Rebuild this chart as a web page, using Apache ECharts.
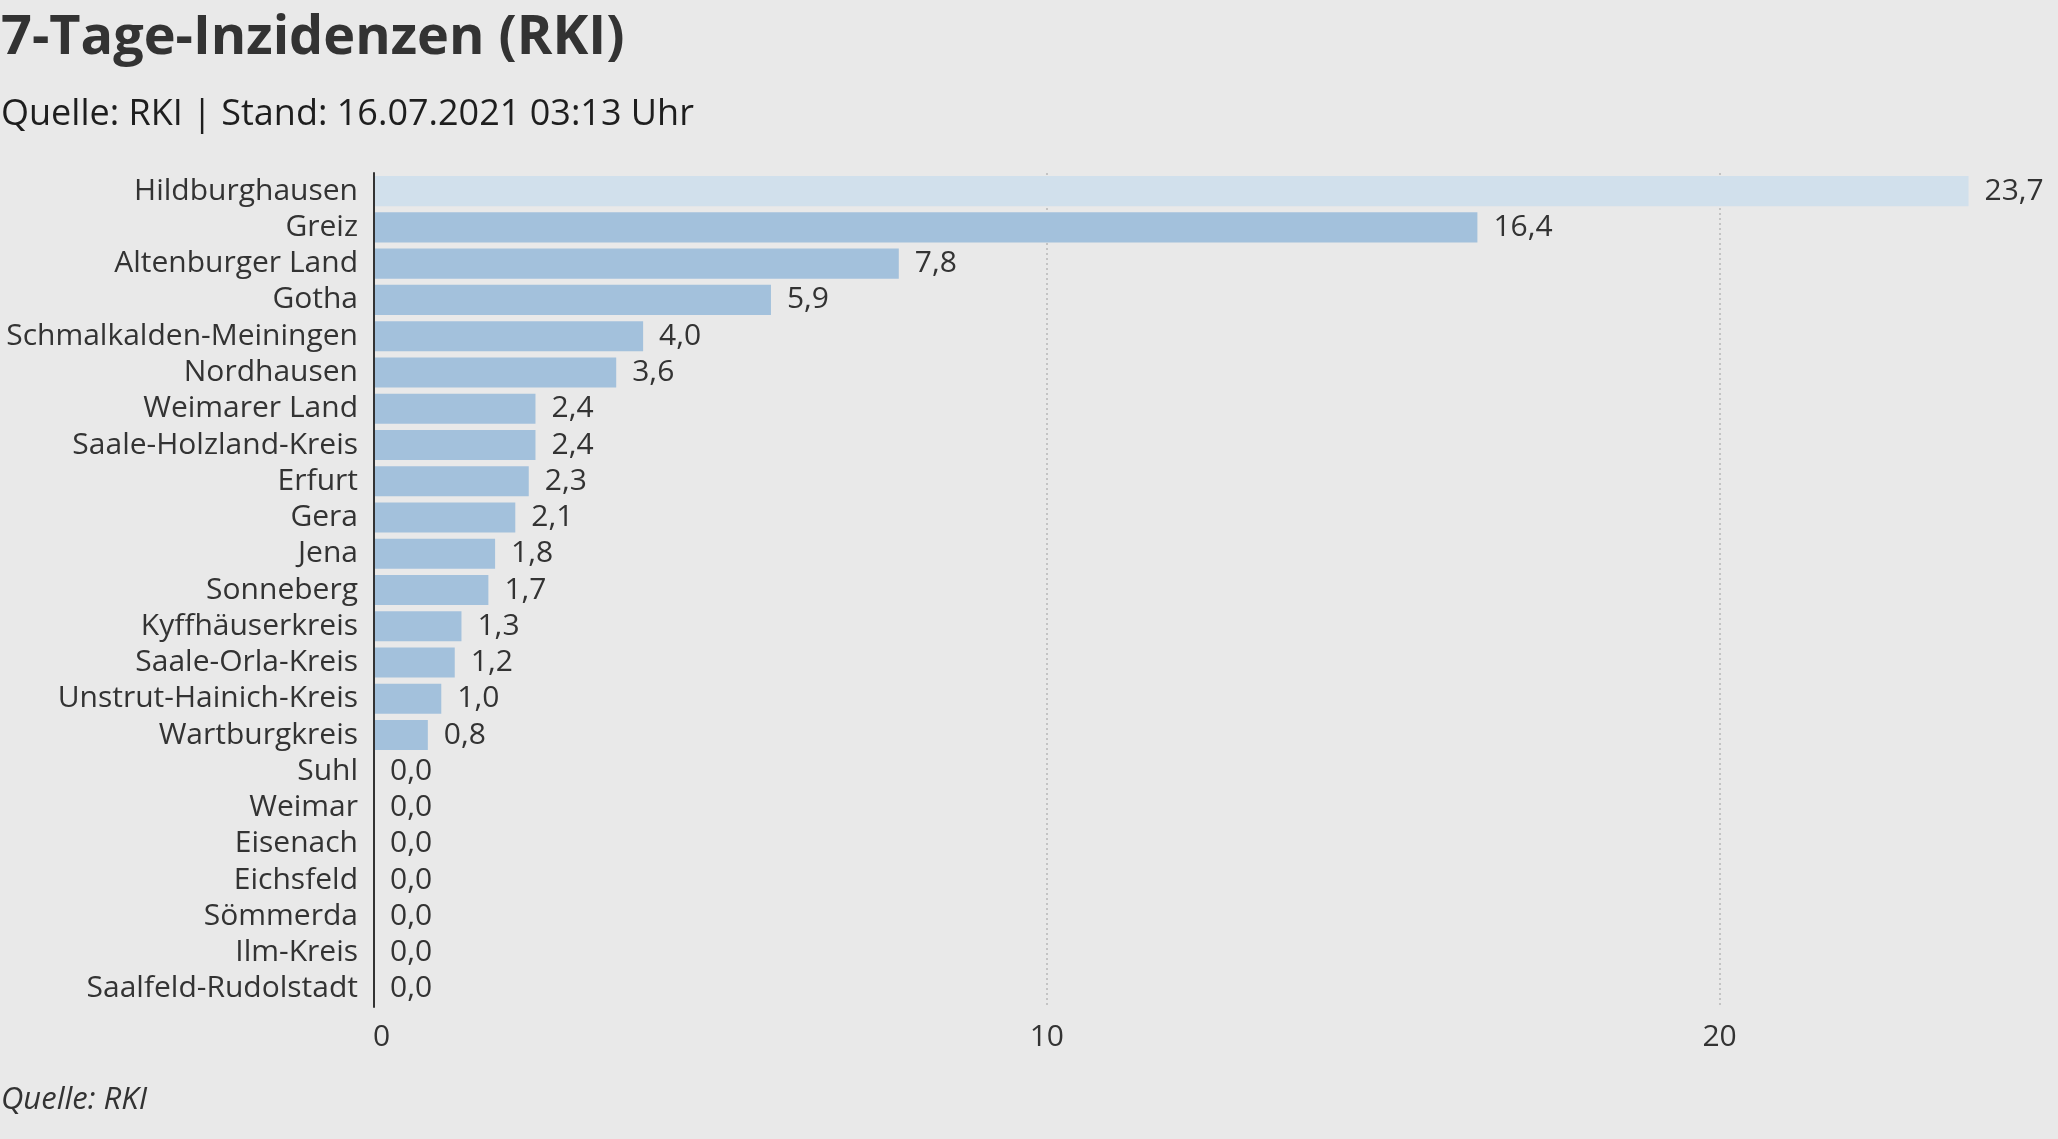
<!DOCTYPE html>
<html>
<head>
<meta charset="utf-8">
<script src="https://cdn.jsdelivr.net/npm/echarts@6/dist/echarts.min.js"></script>
<style>
  html, body { margin: 0; padding: 0; background: #e9e9e9; }
  #chart { width: 2058px; height: 1139px; }
</style>
</head>
<body>
<div id="chart"></div>
<script>
const titleText = '7-Tage-Inzidenzen (RKI)';
const subtitleText = 'Quelle: RKI | Stand: 16.07.2021 03:13 Uhr';
const footerText = 'Quelle: RKI';

const categories = [
  'Hildburghausen', 'Greiz', 'Altenburger Land', 'Gotha', 'Schmalkalden-Meiningen',
  'Nordhausen', 'Weimarer Land', 'Saale-Holzland-Kreis', 'Erfurt', 'Gera', 'Jena',
  'Sonneberg', 'Kyffhäuserkreis', 'Saale-Orla-Kreis', 'Unstrut-Hainich-Kreis',
  'Wartburgkreis', 'Suhl', 'Weimar', 'Eisenach', 'Eichsfeld', 'Sömmerda',
  'Ilm-Kreis', 'Saalfeld-Rudolstadt'
];
const values = [
  23.7, 16.4, 7.8, 5.9, 4.0,
  3.6, 2.4, 2.4, 2.3, 2.1, 1.8,
  1.7, 1.3, 1.2, 1.0,
  0.8, 0.0, 0.0, 0.0, 0.0, 0.0,
  0.0, 0.0
];
const highlighted = ['Hildburghausen'];
const xTicks = [0, 10, 20];

const FONT = "'Open Sans', 'Noto Sans', sans-serif";
const TEXT = '#333333';
const BAR = '#a3c1dc';
const BAR_HL = '#d1e0ec';

const seriesData = values.map((v, i) => ({
  value: v,
  itemStyle: { color: highlighted.includes(categories[i]) ? BAR_HL : BAR }
}));

const chart = echarts.init(document.getElementById('chart'), null, { renderer: 'canvas' });
chart.setOption({
  backgroundColor: '#e9e9e9',
  animation: false,
  title: [
    { text: titleText, left: 1, top: 12, padding: 0,
      textStyle: { fontFamily: FONT, fontSize: 54, fontWeight: 'bold', color: TEXT } },
    { text: subtitleText, left: 1, top: 97, padding: 0,
      textStyle: { fontFamily: FONT, fontSize: 36, fontWeight: 'normal', color: '#1e1e1e' } },
    { text: footerText, left: 1, top: 1085, padding: 0,
      textStyle: { fontFamily: FONT, fontSize: 31, fontWeight: 'normal', fontStyle: 'italic', color: TEXT } }
  ],
  grid: { left: 374, right: 2, top: 173, bottom: 132, containLabel: false },
  xAxis: {
    type: 'value',
    min: 0,
    max: 25,
    interval: 10,
    axisLine: { show: false },
    axisTick: { show: false },
    splitLine: {
      show: true,
      showMinLine: false,
      showMaxLine: false,
      lineStyle: { color: '#c4c4c4', width: 2, type: [2, 3] }
    },
    axisLabel: {
      showMaxLabel: false,
      margin: 15,
      fontFamily: FONT,
      fontSize: 30,
      color: TEXT,
      formatter: (v) => xTicks.includes(v) ? (v === 0 ? '{first|0}' : String(v)) : '',
      rich: { first: { fontFamily: FONT, fontSize: 30, color: TEXT, padding: [0, 0, 0, 15] } }
    }
  },
  yAxis: {
    type: 'category',
    data: categories,
    inverse: true,
    z: 5,
    axisLine: { show: true, lineStyle: { color: TEXT, width: 2 } },
    axisTick: { show: false },
    splitLine: { show: false },
    axisLabel: {
      margin: 16,
      padding: [5, 0, 0, 0],
      fontFamily: FONT,
      fontSize: 30,
      color: TEXT,
      interval: 0
    }
  },
  series: [{
    type: 'bar',
    data: seriesData,
    barCategoryGap: '17%',
    label: {
      show: true,
      position: 'right',
      distance: 16,
      padding: [3, 0, 0, 0],
      fontFamily: FONT,
      fontSize: 30,
      color: TEXT,
      formatter: (p) => p.value.toFixed(1).replace('.', ',')
    }
  }]
});
</script>
</body>
</html>
